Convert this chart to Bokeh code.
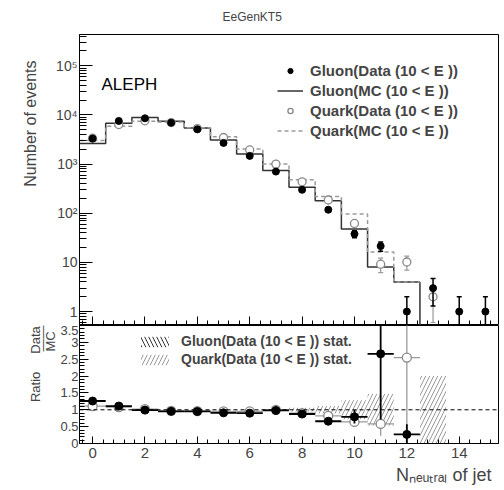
from bokeh.plotting import figure
from bokeh.layouts import column
from bokeh.models import (Range1d, Label, Legend, LegendItem, Span, Title,
                          CustomJSTickFormatter, SingleIntervalTicker, LogTicker)
from bokeh.embed import file_html
from bokeh.resources import INLINE

# ---------------- data ----------------
bins_all = list(range(16))
gluon_data = [3300, 7550, 8550, 6950, 5100, 2700, 1470, 705, 300, 118, 38, 21.5, 1, 3, 1, 1]
gluon_data_err = [57, 87, 92, 83, 71, 52, 38, 27, 17, 11, 6.2, 4.6, 1, 1.7, 1, 1]
quark_bins = list(range(14))
quark_data = [3360, 6370, 7600, 7000, 5280, 3480, 1940, 1000, 437, 186, 62, 9.2, 10.2, 2]
quark_data_err = [58, 80, 87, 84, 73, 59, 44, 32, 21, 14, 7.9, 3.0, 3.2, 1.4]
mc_edges = [-0.5, 0.5, 1.5, 2.5, 3.5, 4.5, 5.5, 6.5, 7.5, 8.5, 9.5, 10.5, 11.5, 12.5]
gluon_mc = [2640, 6800, 8900, 7450, 5450, 3080, 1610, 740, 340, 180, 48, 8.1, 4.0]
quark_mc = [3030, 5900, 7450, 7200, 5500, 3600, 2030, 1000, 480, 220, 97, 16.3, 4.0]

ratio_bins = list(range(13))
gluon_ratio = [1.26, 1.11, 0.99, 0.955, 0.95, 0.91, 0.90, 0.98, 0.875, 0.66, 0.79, 2.66, 0.27]
gluon_ratio_err = [0.02, 0.02, 0.02, 0.02, 0.02, 0.02, 0.03, 0.04, 0.05, 0.07, 0.2, 1.95, 0.3]
quark_ratio = [1.11, 1.08, 1.02, 0.97, 0.96, 0.95, 0.95, 1.0, 0.9, 0.82, 0.64, 0.58, 2.55]
quark_ratio_err = [0.02, 0.02, 0.02, 0.02, 0.02, 0.02, 0.03, 0.04, 0.05, 0.08, 0.12, 0.35, 2.55]

qband_bins = [8, 9, 10, 11, 13]
qband_lo = [0.94, 0.89, 0.72, 0.53, 0.0]
qband_hi = [1.06, 1.11, 1.28, 1.47, 2.0]
gband_bins = [0, 1, 2, 3, 4, 5, 6, 7]
gband_lo = [1.25, 1.10, 0.985, 0.95, 0.945, 0.905, 0.893, 0.972]
gband_hi = [1.27, 1.12, 0.995, 0.96, 0.955, 0.915, 0.907, 0.988]

FONT = "Liberation Sans"
GRAY = "#9a9a9a"
NB = "\u00a0"

xr = Range1d(-0.5, 15.5)

# ---------------- top panel ----------------
p1 = figure(width=499, height=325, x_range=xr, y_range=Range1d(0.521, 4.33e5),
            y_axis_type="log", output_backend="svg", toolbar_location=None,
            min_border_left=79, min_border_right=1, min_border_top=32, min_border_bottom=0)
p1.grid.visible = False
p1.outline_line_color = "black"
p1.background_fill_color = "white"
p1.border_fill_color = "white"

p1.title.text = "EeGenKT5"
p1.title.align = "left"
p1.title.offset = 143
p1.title.standoff = 18
p1.title.vertical_align = "top"
p1.title.text_font = FONT
p1.title.text_font_size = "12px"
p1.title.text_font_style = "normal"

yax = p1.yaxis[0]
yax.ticker = LogTicker(num_minor_ticks=10)
yax.formatter = CustomJSTickFormatter(code="""
const e = Math.round(Math.log10(tick));
if (e == 0) return "1";
if (e == 1) return "10";
const sup = {2: "\u00b2", 3: "\u00b3", 4: "\u2074", 5: "\u2075", 6: "\u2076"};
return "10" + sup[e];
""")
yax.major_tick_in = 13
yax.major_tick_out = 0
yax.minor_tick_in = 7
yax.minor_tick_out = 0
yax.major_label_text_font = FONT
yax.major_label_text_font_size = "14px"
yax.major_label_standoff = 2

xax1 = p1.xaxis[0]
xax1.ticker = SingleIntervalTicker(interval=2, num_minor_ticks=5)
xax1.formatter = CustomJSTickFormatter(code="return '';")
xax1.major_tick_in = 9
xax1.major_tick_out = 0
xax1.minor_tick_in = 5
xax1.minor_tick_out = 0
xax1.major_label_standoff = 0

p1.add_layout(Title(text="Number of events", align="right", offset=26, standoff=24,
                    vertical_align="top",
                    text_font=FONT, text_font_size="16px", text_font_style="normal"), "left")

# MC histograms
gm_y = gluon_mc + [gluon_mc[-1]]
qm_y = quark_mc + [quark_mc[-1]]
r_gmc = p1.step(x=mc_edges, y=gm_y, mode="after", line_color="#333333", line_width=1.5)
p1.segment(x0=[mc_edges[-1]], y0=[gluon_mc[-1]], x1=[mc_edges[-1]], y1=[1e-3],
           line_color="#333333", line_width=1.5)
r_qmc = p1.step(x=mc_edges, y=qm_y, mode="after", line_color=GRAY, line_width=1.5,
                line_dash="4 3")

# quark data
q_lo = [max(v - e, 1e-3) for v, e in zip(quark_data, quark_data_err)]
q_hi = [v + e for v, e in zip(quark_data, quark_data_err)]
p1.segment(x0=quark_bins, y0=q_lo, x1=quark_bins, y1=q_hi, line_color=GRAY, line_width=1.2)
p1.scatter(x=quark_bins, y=q_hi, marker="dash", size=5, line_color=GRAY, line_width=1.2)
p1.scatter(x=quark_bins, y=q_lo, marker="dash", size=5, line_color=GRAY, line_width=1.2)
r_qd = p1.scatter(x=quark_bins, y=quark_data, marker="circle", size=8, fill_color="white",
                  line_color="#888888", line_width=1.3)

# gluon data
g_lo = [max(v - e, 1e-3) for v, e in zip(gluon_data, gluon_data_err)]
g_hi = [v + e for v, e in zip(gluon_data, gluon_data_err)]
p1.segment(x0=bins_all, y0=g_lo, x1=bins_all, y1=g_hi, line_color="black", line_width=1.5)
p1.scatter(x=bins_all, y=g_hi, marker="dash", size=5, line_color="black", line_width=1.5)
p1.scatter(x=bins_all, y=g_lo, marker="dash", size=5, line_color="black", line_width=1.5)
r_gd = p1.scatter(x=bins_all, y=gluon_data, marker="circle", size=7, fill_color="black",
                  line_color="black")

leg1 = Legend(items=[
    LegendItem(label="Gluon(Data (10 < E ))", renderers=[r_gd]),
    LegendItem(label="Gluon(MC (10 < E ))", renderers=[r_gmc]),
    LegendItem(label="Quark(Data (10 < E ))", renderers=[r_qd]),
    LegendItem(label="Quark(MC (10 < E ))", renderers=[r_qmc]),
], location=(198, 185))
leg1.label_text_font = FONT
leg1.label_text_font_style = "bold"
leg1.label_text_font_size = "15px"
leg1.background_fill_alpha = 0
leg1.border_line_alpha = 0
leg1.padding = 0
leg1.margin = 0
leg1.spacing = 0
leg1.label_height = 20
leg1.glyph_height = 13
leg1.glyph_width = 26
leg1.label_standoff = 7
p1.add_layout(leg1)

p1.add_layout(Label(x=0.34, y=2.66e4, text="ALEPH", text_font=FONT,
                    text_font_size="17px", text_color="black"))

# ---------------- ratio panel ----------------
p2 = figure(width=499, height=165, x_range=xr, y_range=Range1d(0, 3.5),
            output_backend="svg", toolbar_location=None,
            min_border_left=79, min_border_right=1, min_border_top=0, min_border_bottom=47)
p2.grid.visible = False
p2.outline_line_color = "black"
p2.background_fill_color = "white"
p2.border_fill_color = "white"

yax2 = p2.yaxis[0]
yax2.ticker = SingleIntervalTicker(interval=0.5, num_minor_ticks=5)
yax2.formatter = CustomJSTickFormatter(code="return (Math.round(tick*10)/10).toString();")
yax2.major_tick_in = 9
yax2.major_tick_out = 0
yax2.minor_tick_in = 5
yax2.minor_tick_out = 0
yax2.major_label_text_font = FONT
yax2.major_label_text_font_size = "13px"
yax2.major_label_standoff = 1

line1 = "Ratio" + NB * 5 + "Data"
line2 = NB * 14 + "\u2014\u2014"
line3 = NB * 14 + "MC" + NB
ylab2 = Title(text=line1 + "\n" + line2 + "\n" + line3, align="right", offset=0,
              standoff=0, text_font=FONT, text_font_size="13px", text_font_style="normal")
try:
    ylab2.text_line_height = 0.5
except AttributeError:
    pass
p2.add_layout(ylab2, "left")

xax2 = p2.xaxis[0]
xax2.ticker = SingleIntervalTicker(interval=2, num_minor_ticks=5)
xax2.major_tick_in = 7
xax2.major_tick_out = 0
xax2.minor_tick_in = 4
xax2.minor_tick_out = 0
xax2.major_label_text_font = FONT
xax2.major_label_text_font_size = "15px"
xax2.major_label_standoff = 4

xlab2 = Title(text="N\u2099\u2091\u1d64\u209c\u1d63\u2090\u2097 of jet", align="right", offset=7,
              standoff=4, text_font=FONT, text_font_size="18px", text_font_style="normal")
p2.add_layout(xlab2, "below")

# bands
r_qband = p2.quad(left=[b - 0.5 for b in qband_bins], right=[b + 0.5 for b in qband_bins],
                  bottom=qband_lo, top=qband_hi, fill_alpha=0, line_alpha=0,
                  hatch_pattern="/", hatch_color=GRAY, hatch_scale=8, hatch_weight=1)
r_gband = p2.quad(left=[b - 0.5 for b in gband_bins], right=[b + 0.5 for b in gband_bins],
                  bottom=gband_lo, top=gband_hi, fill_alpha=0, line_alpha=0,
                  hatch_pattern="\\", hatch_color="#333333", hatch_scale=8, hatch_weight=1)

p2.add_layout(Span(location=1, dimension="width", line_color="black", line_dash="4 3",
                   line_width=1))

# quark ratio
p2.segment(x0=[b - 0.5 for b in ratio_bins], y0=quark_ratio,
           x1=[b + 0.5 for b in ratio_bins], y1=quark_ratio, line_color=GRAY, line_width=1.3)
p2.segment(x0=ratio_bins, y0=[r - e for r, e in zip(quark_ratio, quark_ratio_err)],
           x1=ratio_bins, y1=[r + e for r, e in zip(quark_ratio, quark_ratio_err)],
           line_color=GRAY, line_width=1.3)
p2.scatter(x=ratio_bins, y=quark_ratio, marker="circle", size=9, fill_color="white",
           line_color="#888888", line_width=1.3)

# gluon ratio
p2.segment(x0=[b - 0.5 for b in ratio_bins], y0=gluon_ratio,
           x1=[b + 0.5 for b in ratio_bins], y1=gluon_ratio, line_color="black", line_width=1.8)
p2.segment(x0=ratio_bins, y0=[r - e for r, e in zip(gluon_ratio, gluon_ratio_err)],
           x1=ratio_bins, y1=[r + e for r, e in zip(gluon_ratio, gluon_ratio_err)],
           line_color="black", line_width=1.8)
p2.scatter(x=ratio_bins, y=gluon_ratio, marker="circle", size=8, fill_color="black",
           line_color="black")

leg2 = Legend(items=[
    LegendItem(label="Gluon(Data (10 < E )) stat.", renderers=[r_gband]),
    LegendItem(label="Quark(Data (10 < E )) stat.", renderers=[r_qband]),
], location=(58, 75))
leg2.label_text_font = FONT
leg2.label_text_font_style = "bold"
leg2.label_text_font_size = "14px"
leg2.background_fill_alpha = 0
leg2.border_line_alpha = 0
leg2.padding = 0
leg2.margin = 0
leg2.spacing = 0
leg2.label_height = 18
leg2.glyph_height = 13
leg2.glyph_width = 35
leg2.label_standoff = 9
p2.add_layout(leg2)

layout = column(p1, p2, spacing=0)
html = file_html(layout, INLINE)
open("out.html", "w").write(html)
